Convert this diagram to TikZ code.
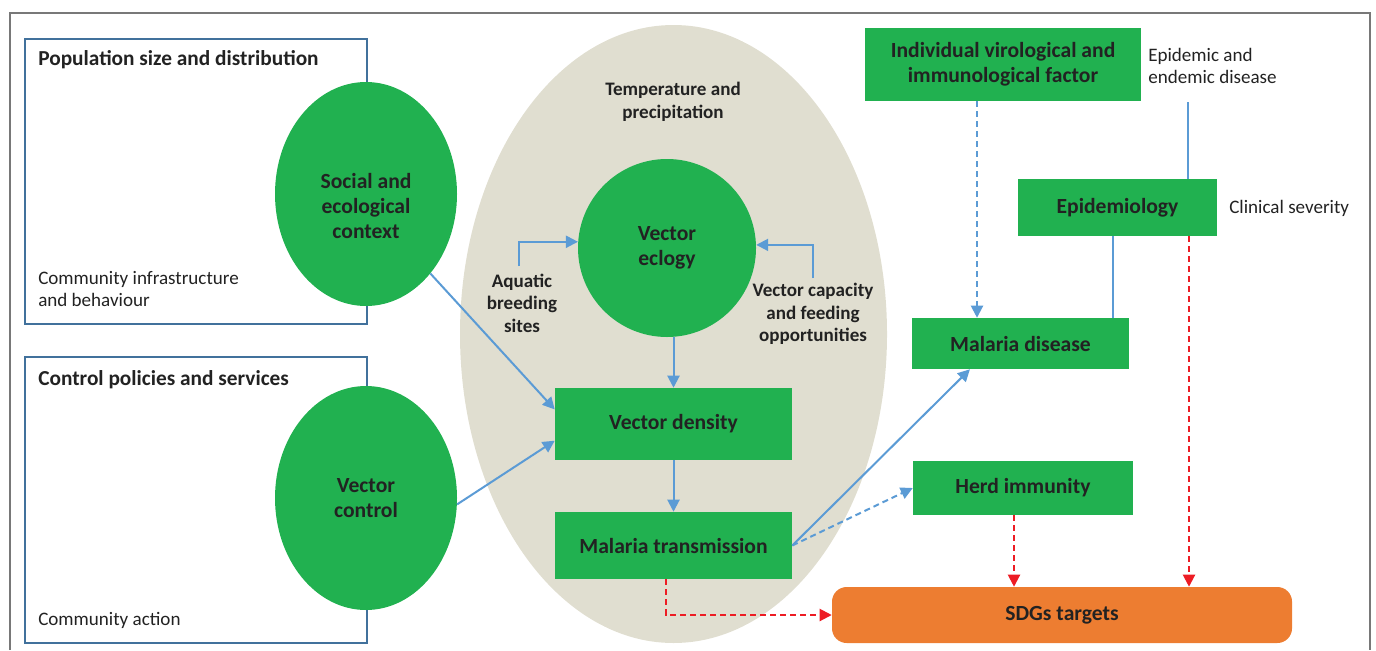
\documentclass[tikz,border=0pt]{standalone}
\usepackage{fontspec}
\setmainfont{Carlito}
\usetikzlibrary{shapes.geometric,arrows.meta}
\definecolor{grn}{RGB}{33,177,80}
\definecolor{beige}{RGB}{224,222,208}
\definecolor{orng}{RGB}{237,125,49}
\definecolor{lblue}{RGB}{91,155,213}
\definecolor{dblue}{RGB}{65,113,156}
\definecolor{rd}{RGB}{237,28,36}
\definecolor{txt}{RGB}{34,34,34}
\definecolor{frm}{RGB}{120,120,120}
\begin{document}
\begin{tikzpicture}[x=0.75pt,y=-0.75pt,
  sz/.style 2 args={minimum width=#1*0.75pt, minimum height=#2*0.75pt},
  big/.style={font=\fontsize{16.2}{18.75}\selectfont\bfseries},
  lab/.style={font=\fontsize{14.3}{16.8}\selectfont\bfseries, text=txt, align=center, inner sep=0},
  note/.style={font=\fontsize{14.3}{16.5}\selectfont, text=txt, align=left, inner sep=0},
  ttl/.style={font=\fontsize{16}{18}\selectfont\bfseries, text=txt, inner sep=0, anchor=west},
  gbox/.style={fill=grn, text=txt, big, align=center, inner sep=0},
  gell/.style={ellipse, fill=grn, text=txt, big, align=center, inner sep=0},
  bbox/.style={draw=dblue, line width=1.6pt, inner sep=0},
  barrow/.style={draw=lblue, line width=1.5pt, -{Triangle[length=9pt,width=9pt]}},
  bline/.style={draw=lblue, line width=1.5pt},
  bdash/.style={draw=lblue, line width=1.5pt, dash pattern=on 4.5pt off 3pt, -{Triangle[length=9pt,width=9pt]}},
  rdash/.style={draw=rd, line width=1.5pt, dash pattern=on 4.5pt off 3pt, -{Triangle[length=9pt,width=9pt]}}
]
\useasboundingbox (0,0) rectangle (1376,650);
% outer frame
\draw[frm, line width=1.2pt] (10,650) -- (10,13) -- (1370,13) -- (1370,650);

% left boxes
\node[bbox, sz={342}{285}] (popbox) at (196,181.5) {};
\node[bbox, sz={342}{286}] (ctrlbox) at (196,500) {};
\node[ttl] (poptitle) at (38,60) {Population size and distribution};
\node[ttl] (ctrltitle) at (38,380) {Control policies and services};
\node[note, anchor=west] (commi) at (38,289) {Community infrastructure\\and behaviour};
\node[note, anchor=west] (comma) at (38,620) {Community action};

\node[gell, sz={182}{224}] (social) at (366,194) {\mbox{}\\[10.5pt]Social and\\ecological\\context};
\node[gell, sz={182}{224}] (vcontrol) at (366,498) {Vector\\control};

% environment ellipse
\node[ellipse, fill=beige, sz={427}{618}, inner sep=0] (env) at (673.5,334) {};
\node[lab] (temp) at (673,102) {Temperature and\\precipitation};
\node[gell, sz={178}{178}] (ecology) at (667,248) {Vector\\eclogy};
\node[lab] (aquatic) at (522,303) {Aquatic\\breeding\\sites};
\node[lab] (vcap) at (813,314) {Vector capacity\\and feeding\\opportunities};
\node[gbox, sz={237}{72}] (vdensity) at (673.5,424) {Vector density};
\node[gbox, sz={237}{67}] (mtrans) at (673.5,545.5) {Malaria transmission};

% right side
\node[gbox, sz={276}{73}] (indiv) at (1003,64.5) {Individual virological and\\immunological factor};
\node[note, anchor=west] (epidemic) at (1148,66) {Epidemic and\\endemic disease};
\node[gbox, sz={199}{57}] (epi) at (1117.5,207.5) {Epidemiology};
\node[note, anchor=west] (clinical) at (1229,208) {Clinical severity};
\node[gbox, sz={217}{51}] (mdisease) at (1020.5,343.5) {Malaria disease};
\node[gbox, sz={220}{54}] (herd) at (1023,488) {Herd immunity};
\node[fill=orng, rounded corners=11pt, text=txt, big, inner sep=0, sz={460}{56}] (sdg) at (1062,615) {SDGs targets};

% coordinates
\coordinate (aq1) at (519,266);
\coordinate (vc1) at (813,278);
\coordinate (xind) at (977,0);
\coordinate (e1) at (1188,102);
\coordinate (xepi) at (1113,0);
\coordinate (xred) at (1189,0);
\coordinate (xherd) at (1014,0);
\coordinate (xmt) at (666,0);

% connectors
\draw[barrow] (aq1) |- (ecology.176);
\draw[barrow] (vc1) |- (ecology.2);
\draw[barrow] (ecology.south -| vdensity.north) -- (vdensity.north);
\draw[barrow] (vdensity.south) -- (mtrans.north);
\draw[barrow] (social.-51) -- (vdensity.173);
\draw[barrow] (vcontrol.-4) -- (vdensity.188);
\draw[barrow] (mtrans.east) -- (mdisease.207);
\draw[bdash] (mtrans.east) -- (herd.west);
\draw[rdash] (xmt |- mtrans.south) |- (sdg.west);
\draw[bdash] (xind |- indiv.south) -- (xind |- mdisease.north);
\draw[bline] (e1) -- (e1 |- epi.north);
\draw[bline] (xepi |- epi.south) -- (xepi |- mdisease.north);
\draw[rdash] (xred |- epi.south) -- (xred |- sdg.north);
\draw[rdash] (xherd |- herd.south) -- (xherd |- sdg.north);
\end{tikzpicture}
\end{document}
